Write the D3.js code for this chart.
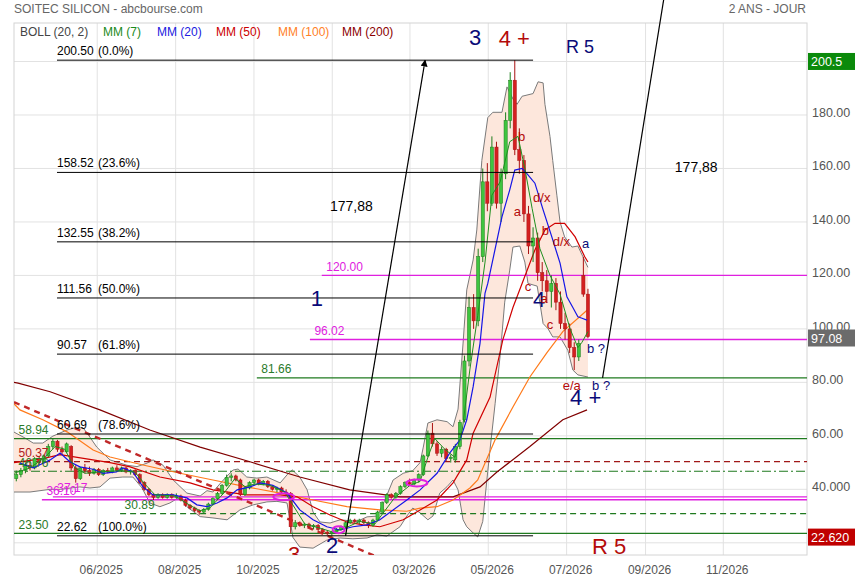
<!DOCTYPE html>
<html>
<head>
<meta charset="utf-8">
<script src="https://cdn.jsdelivr.net/npm/d3@7"></script>
<style>
  body { margin: 0; background: #fff; }
  text { font-family: "Liberation Sans", Arial, sans-serif; }
</style>
</head>
<body>
<div id="container"></div>
<script>
// VARIABLES

const width = 855,
      height = 580,
      plot = {left: 14, right: 807, top: 23, bottom: 555}

// DATA

// daily candles [open, high, low, close]
const candles = [
  [44,47,43,45.5],[45.5,48,44.5,47],[47,50,46,49],[49,51,47,48],[48,52,47.5,51.5],
  [51.5,52.5,49,50],[50,53,49.5,52.5],[52.5,57,52,56],[56,59,55,58],[58,58.5,54,55],
  [55,56,53,54],[54,57.5,53.5,57],[56,56.5,47,48],[48,49,42.5,44],[44,48.5,43.5,48],
  [48,49.5,46,47],[47,48.5,45,46],[46,48,45.5,47.5],[47.5,48,45,45.5],[45.5,47.5,45,47],
  [47,48,46,46.5],[46.5,48.5,46,48],[48,49,46.5,47],[47,48.5,46.5,48],[48,48.5,46,46.5],
  [46.5,47.5,45.5,47],[47,47.5,45,45.5],[45.5,46,42,42.5],[42.5,43,39.5,40],[40,40.5,37.5,38],
  [38,38.5,36,37],[37,38.5,36.5,38],[38,38.5,36.5,37],[37,38.5,36.5,38],[38,38.5,36.5,37],
  [37,38.5,36.5,37.5],[37.5,38,35.5,36],[36,36.5,33.5,34],[34,34.5,32.5,33],[33,33.5,31.5,32],
  [32,32.5,30.5,31.5],[31.5,33,31,32.5],[32.5,35,32,34.5],[34.5,37,34,36.5],[36.5,39,36,38.5],
  [38.5,42,38,41.5],[41.5,45.5,41,44.5],[44.5,46,43,45],[45,45.5,43,43.5],[43.5,44,37.5,38],
  [38,41,37.5,40.5],[40.5,43,40,42.5],[42.5,44,41.5,43.5],[43.5,44,41.5,42],[42,43.5,41.5,43],
  [43,43.5,40.5,41],[41,41.5,39.5,40],[40,41,39,40.5],[40.5,41,38.5,39],[39,40,37.5,38.5],
  [38.5,39,23.5,26],[26,28.5,25,27.5],[27.5,28,26,26.5],[26.5,27.5,25.5,27],[27,27.5,25.5,26],
  [26,27,25,26.5],[26.5,27,24.5,25],[25,25.5,23.5,24],[24,24.5,22.8,23.5],[23.5,24.5,22.62,24],
  [24,25.5,23.5,25],[25,26.5,24.5,26],[26,28,25.5,27.5],[27.5,29,27,28.5],[28.5,29,27.5,28],
  [28,29,27,28.5],[28.5,29,27,27.5],[27.5,28,25.5,26.5],[26.5,29,26,28.5],[28.5,32,28,31.5],
  [31.5,35.5,31,35],[35,38.5,34.5,38],[38,38.5,36.5,37],[37,39,36.5,38.5],[38.5,41.5,38,41],
  [41,43,40.5,42.5],[42.5,44,41.5,42],[42,44,41.5,43.5],[43.5,46,42.5,45.5],[45.5,53,45,52.5],
  [52.5,62,52,61],[61,64.8,56,57],[57,58,52.5,53.5],[53.5,56,52,55],[55,55.5,50.5,51.5],
  [51.5,53,50,52],
  [51,57,50,56],[56,66,55,65],[66,90,65,88],[88,112,86,108],[108,113,100,103],
  [103,130,101,127],[127,160,125,155],[155,162,144,147],[147,172,146,168],[168,170,145,147],
  [147,160,140,158],[158,181,156,178],[178,196,175,193],[193,200.5,165,167],[167,175,158,163],
  [163,165,140,143],[143,146,128,131],[131,138,125,134],[134,136,118,121],[121,125,114,118],
  [118,122,110,114],[114,120,108,117],[117,119,107,110],[110,114,100,102],[102,106,96,100],
  [100,102,91,93],[93,95,84.6,89.5],[89.5,96,88,94.6],[120,127,112,113],[113,115,96.5,97.08]
]

// indicator lines [day index, value]
const bollUpper = [
  [-0.5,61.4],[1.9,59.2],[3.7,57.3],[5.8,57.3],[8,59.9],[11.1,62.2],[12.8,63],[14.6,63],[15.5,61],
  [17.6,55.8],[20.5,51],[24.2,49],[26.4,48.5],[28.6,49.8],[29.9,51],[32.1,49],[34.3,43.5],
  [37.3,38.6],[40.2,37.5],[41.7,39.5],[43,39],[44.5,42],[46.1,45],[47.4,47.2],[48.5,47.6],
  [50.4,44.6],[52.6,44.2],[54.8,44.6],[57.7,42.4],[59.2,45.4],[60.3,47.3],[62,44.6],[63.6,39.8],
  [64.9,31.5],[66.4,27.8],[68.6,27.4],[70.8,28.6],[74.5,28],[76.7,29.7],[78.9,30],[80.6,36],
  [82.4,43.5],[84.6,46],[86.7,47],[88.3,50],[89,55.8],[90,64.8],[92,66],[94.2,65.3],[95.5,63.4],
  [96.6,70],[97.7,94.7],[98.5,114.6],[99.9,125.8],[100.7,137],[101.8,163],[103.1,179],
  [104.2,181],[106.2,181],[107.3,190.5],[108.6,186],[109.5,184],[110.6,187],[113,188],
  [114.1,192.4],[115.2,192],[115.6,184],[116.7,172],[117.3,163],[118.2,150],[118.9,140],
  [119.9,134.4],[121.5,130.6],[122.8,131],[123.9,127],[125,123]
]
const bollLower = [
  [-0.5,39],[3,39],[7.4,40],[9.6,40],[13.9,40.9],[16.1,40.5],[18.3,40.9],[20.5,44.2],[23.3,44.6],
  [25.5,44.6],[27.5,40.5],[29.2,34.9],[31.4,33.5],[33.6,34.9],[35.8,37.2],[37.3,33.5],[40.2,29.8],
  [43,29.3],[46.1,28.6],[48.9,32.3],[51.8,34.2],[54.8,35.3],[57,35.5],[59.2,34.9],[60.5,22],
  [62,18.4],[64.9,18],[67.9,21],[70.8,21.8],[73.6,21.5],[76.7,21.8],[78.9,23],[81,22.5],[83.9,26],
  [85.4,30],[86.7,33],[88.3,31.2],[90,28.6],[91.1,30],[92.6,38.6],[94.2,41],[95.5,43.5],[96.6,39.8],
  [97.7,28.6],[98.5,26],[99.9,23.7],[100.9,22.2],[102,28],[102.9,43.5],[103.6,55],[104.7,72],
  [105.8,90],[106.8,110],[107.9,122],[108.6,130.6],[110.1,131],[111.2,125],[111.9,117],[113.9,116],
  [114.5,109.6],[115.2,102],[116.3,100],[117.3,97],[118.9,97],[120.6,92],[121.7,84.6],[122.8,82.8],
  [125,82]
]
const mm7 = [
  [-0.5,46],[3,48],[6.3,52],[8.5,56],[10.6,55],[12.8,48],[15,46],[18.3,46.5],[22.7,47],[25.9,46.5],
  [28.1,42],[30.3,38],[34.7,37.5],[38,34],[40.2,32],[42.3,33],[45.6,39],[47.8,44],[50,41],[52.2,42],
  [55.5,41.5],[58.7,39],[60.9,33],[63.1,27],[66.4,25.5],[69.2,24],[71.9,25.5],[75.1,28],[78.4,27],
  [80.6,32],[82.8,37],[86.1,41.5],[88.3,43],[90,52],[91.5,59],[93.7,55],[95.9,52],[97.5,62],
  [99.2,85],[100.9,105],[102.5,125],[104,150],[105.8,155],[107.9,170],[109.7,172],[111.2,160],
  [112.8,145],[114.5,130],[116.7,120],[118.9,113],[121.1,100],[122.8,93],[123.7,95],[125,99]
]
const mm20 = [
  [0.8,49.8],[3.7,48],[7.4,51],[9.6,53.6],[11.7,50.3],[13.9,48.4],[16.8,47.5],[19,46],[21.9,46.5],
  [23.3,48],[25.5,46.5],[27.7,40.9],[29.9,37.9],[34.3,37.9],[37.3,36.8],[39.5,34.2],[41.7,33.5],
  [43.9,34.9],[46.1,36.8],[48.3,39.8],[51.1,40.9],[53.3,42.4],[56.1,41.5],[59.2,38.6],[62,32.3],
  [64.9,28.6],[67.9,26],[70.8,24.8],[73.6,26],[76.7,26.7],[79.5,28.6],[82.4,32.3],[85.4,36],
  [88.3,39.8],[92,46],[94.8,53.6],[97,58.5],[98.5,66],[99.9,78.4],[101.4,94.6],[102.5,113.4],
  [103.1,117],[106.2,141.9],[107.9,152],[109,159.4],[110.6,160],[111.7,158],[113.4,154.5],
  [115.2,144.5],[117.1,134.4],[118.9,124.6],[120.4,112],[121.7,108],[122.8,104.5],[123.7,104],[124.8,103.3]
]
const mm50 = [
  [-0.5,50],[5.8,51.5],[9.6,53],[20.5,50],[24.9,48.4],[31.4,44.6],[38,42.4],[43,39.8],[50.4,37.9],
  [57.7,37.9],[61.4,37.2],[64.9,33.5],[68.6,30.4],[72.3,27.8],[75.8,26.7],[79.5,26],[84.6,28.6],
  [88.3,32.3],[92,36],[95.5,42.4],[98.5,51],[99.9,61],[103.6,74.5],[106.4,96],[108.6,108],
  [110.6,117],[113.4,129.5],[115.6,137],[117.8,139.5],[119.9,139.5],[122.2,134.4],[124.3,127],
  [125,125]
]
const mm100 = [
  [-0.5,72],[0.8,69.7],[5.8,66],[11.1,61.5],[16.8,54.7],[20.5,52.1],[27.7,49.1],[35.8,46],
  [43,43.5],[50.4,40.9],[57.7,38.6],[64.9,36],[72.3,33.5],[79.5,32.3],[85.4,31.8],[88.3,33],
  [92,33.5],[95.5,36],[99.2,40.5],[100.9,43.5],[104.7,58.5],[108.6,70.8],[112.3,82],[116,91],
  [119.5,99],[124.8,107]
]
const mm200 = [
  [-0.5,80],[0.4,79.7],[7.4,76.5],[18.3,69.7],[29.2,62.2],[40.2,55.8],[51.1,50.3],[62,44.6],
  [72.9,39.8],[83.9,37.2],[88.3,37.2],[95.5,37.2],[101.4,40.9],[105.1,46.5],[112.3,56],
  [119.5,66],[124.8,69.7]
]

// retracement levels
const fibValues = [200.50, 158.52, 132.55, 111.56, 90.57, 60.69, 22.62]
const fibPct = ["(0.0%)", "(23.6%)", "(38.2%)", "(50.0%)", "(61.8%)", "(78.6%)", "(100.0%)"]
const fibStart = 8.9, fibEnd = 113

// support / resistance levels: value, start index, kind
const levelValues = [58.94, 50.37, 46.76, 37.17, 36.10, 30.89, 23.50, 81.66, 96.02, 120.00]
const levelStarts = [-0.5, -0.5, -0.5, 8.0, 5.6, 22.7, -0.5, 52.6, 64.2, 66.8]
const levelKinds  = ["green", "redDash", "greenDashDot", "pink", "pink", "greenDash", "green", "green", "pink", "pink"]
const levelLabels = ["58.94", "50.37", "46.76", "37.17", "36.10", "30.89", "23.50", "81.66", "96.02", "120.00"]

// trend line and measured moves [index, value]
const trendLine = [[-0.5, 72.6], [79.5, 14.3]]
const moveUp1 = [[72.0, 22.62], [89.4, 200.5]]
const moveUp2 = [[128.2, 81.66], [145.0, 259.54]]
const moveLabels = [[68.6, 144.1], [144.0, 158.7]]
const moveText = "177,88"

// circled areas [index, value]
const circles = [[58.5, 37.2], [70.5, 24.9], [87.6, 42.4]]

// wave labels: text, index, value, kind
const waveText  = ["3", "4 +", "R 5", "1", "2", "3", "R 5", "4 +", "4", "a", "b", "a", "d/x", "b", "d/x", "a", "c", "c", "b ?", "e/a", "b ?"]
const waveIdx   = [99.0, 105.5, 120.2, 64.4, 67.7, 59.4, 125.9, 121.1, 113.0, 114.6, 109.7, 108.8, 113.0, 114.9, 117.3, 123.7, 111.2, 116.0, 124.8, 119.5, 125.9]
const waveVal   = [206.2, 205.8, 203.2, 108.6, 16.2, 12.9, 15.8, 71.4, 108.2, 109.7, 170.3, 142.2, 147.5, 135.1, 131.0, 130.2, 114.2, 100.0, 91.0, 77.3, 77.3]
const waveKind  = ["bigBlue", "bigRed", "midBlue", "bigBlue", "bigBlue", "bigRed", "bigRed", "bigBlue", "bigBlue", "smRed", "smRed", "smRed", "smRed", "smRed", "smRed", "smBlue", "smRed", "smRed", "smBlue", "smRed", "smBlue"]

// axes
const monthTicks  = [17.7, 34.85, 51.97, 69.09, 86.08, 103.2, 120.34, 137.6, 154.6]
const monthLabels = ["06/2025", "08/2025", "10/2025", "12/2025", "03/2026", "05/2026", "07/2026", "09/2026", "11/2026"]
const priceTicks  = [40, 60, 80, 100, 120, 140, 160, 180]
const priceLabels = ["40.000", "60.00", "80.00", "100.00", "120.00", "140.00", "160.00", "180.00"]
const gridValues  = [20, 40, 60, 80, 100, 120, 140, 160, 180, 200]
const tagValues   = [200.5, 97.08, 22.62]
const tagLabels   = ["200.5", "97.08", "22.620"]

const legendNames = ["BOLL (20, 2)", "MM (7)", "MM (20)", "MM (50)", "MM (100)", "MM (200)"]

// SCALES

const xScale = d3.scaleLinear()
    .domain([-0.5, 172.9])
    .range([plot.left, plot.right])

const yScale = d3.scaleLinear()
    .domain([15.44, 214.4])
    .range([plot.bottom, plot.top])

// ELEMENTS

const svg = d3.select("#container")
    .append("svg")
    .attr("width", width)
    .attr("height", height)

svg.append("defs").append("clipPath")
    .attr("id", "plotClip")
  .append("rect")
    .attr("x", plot.left).attr("y", plot.top)
    .attr("width", plot.right - plot.left).attr("height", plot.bottom - plot.top)

const marker = svg.select("defs").append("marker")
    .attr("id", "arrow")
    .attr("viewBox", "0 0 10 10")
    .attr("refX", 9).attr("refY", 5)
    .attr("markerWidth", 7).attr("markerHeight", 7)
    .attr("markerUnits", "userSpaceOnUse")
    .attr("orient", "auto")
marker.append("path").attr("d", "M0,0 L10,5 L0,10 z").attr("fill", "#000")

// header
svg.append("text")
    .attr("x", 14).attr("y", 13)
    .attr("font-size", 12).attr("fill", "#666")
    .text("SOITEC SILICON - abcbourse.com")
svg.append("text")
    .attr("x", 806).attr("y", 13)
    .attr("text-anchor", "end")
    .attr("font-size", 12).attr("fill", "#666")
    .text("2 ANS - JOUR")

// grid
const grid = svg.append("g")
grid.selectAll(".hgrid")
    .data(gridValues)
    .join("line")
    .attr("x1", plot.left).attr("x2", plot.right)
    .attr("y1", d => yScale(d)).attr("y2", d => yScale(d))
    .attr("stroke", "#e2e2e2")
grid.selectAll(".vgrid")
    .data(monthTicks)
    .join("line")
    .attr("x1", d => xScale(d)).attr("x2", d => xScale(d))
    .attr("y1", plot.top).attr("y2", plot.bottom)
    .attr("stroke", "#e2e2e2")
grid.append("rect")
    .attr("x", plot.left).attr("y", plot.top)
    .attr("width", plot.right - plot.left).attr("height", plot.bottom - plot.top)
    .attr("fill", "none").attr("stroke", "#d4d4d4")

const chart = svg.append("g").attr("clip-path", "url(#plotClip)")

const line = d3.line().x(d => xScale(d[0])).y(d => yScale(d[1]))

// bollinger band
chart.append("path")
    .attr("d", line(bollUpper.concat(bollLower.slice().reverse())) + "Z")
    .attr("fill", "#fde7dc")
chart.append("path").attr("d", line(bollUpper)).attr("fill", "none").attr("stroke", "#7a7a7a").attr("stroke-width", 1)
chart.append("path").attr("d", line(bollLower)).attr("fill", "none").attr("stroke", "#7a7a7a").attr("stroke-width", 1)

// levels
const levelStyle = {
  green:        {stroke: "#1f7a1f", dash: null, width: 1.2, text: "#2a7a2a"},
  greenDash:    {stroke: "#1f7a1f", dash: "6,4", width: 1.2, text: "#2a7a2a"},
  greenDashDot: {stroke: "#1f7a1f", dash: "9,3,2,3", width: 1.2, text: "#2a7a2a"},
  redDash:      {stroke: "#a01818", dash: "6,4", width: 1.2, text: "#b02020"},
  pink:         {stroke: "#e020e0", dash: null, width: 1.4, text: "#e020e0"}
}
levelValues.forEach((v, k) => {
  const s = levelStyle[levelKinds[k]]
  chart.append("line")
      .attr("x1", xScale(levelStarts[k])).attr("x2", plot.right)
      .attr("y1", yScale(v)).attr("y2", yScale(v))
      .attr("stroke", s.stroke).attr("stroke-width", s.width)
      .attr("stroke-dasharray", s.dash)
})

// moving averages (long ones behind candles)
chart.append("path").attr("d", line(mm200)).attr("fill", "none").attr("stroke", "#800000").attr("stroke-width", 1.2)
chart.append("path").attr("d", line(mm100)).attr("fill", "none").attr("stroke", "#ff7a1a").attr("stroke-width", 1.2)
chart.append("path").attr("d", line(mm50)).attr("fill", "none").attr("stroke", "#d00000").attr("stroke-width", 1.2)

// trend line
chart.append("path")
    .attr("d", line(trendLine))
    .attr("stroke", "#c02828").attr("stroke-width", 2.4)
    .attr("stroke-dasharray", "6,5").attr("fill", "none")

// SELECT-JOIN-DRAW candles

const candleG = chart.selectAll(".candle")
    .data(candles)
    .join("g")
    .attr("class", "candle")

candleG.append("line")
    .attr("x1", (d, i) => xScale(i)).attr("x2", (d, i) => xScale(i))
    .attr("y1", d => yScale(d[1])).attr("y2", d => yScale(d[2]))
    .attr("stroke", d => d[3] >= d[0] ? "#1d7d1d" : "#a81212")
    .attr("stroke-width", 1)

candleG.append("rect")
    .attr("x", (d, i) => xScale(i) - 1.6)
    .attr("width", 3.2)
    .attr("y", d => yScale(Math.max(d[0], d[3])))
    .attr("height", d => Math.max(1, Math.abs(yScale(d[0]) - yScale(d[3]))))
    .attr("fill", d => d[3] >= d[0] ? "#3fc43f" : "#d42020")
    .attr("stroke", d => d[3] >= d[0] ? "#1d7d1d" : "#a81212")
    .attr("stroke-width", 0.5)

// short averages on top
chart.append("path").attr("d", line(mm20)).attr("fill", "none").attr("stroke", "#1515e6").attr("stroke-width", 1.2)
chart.append("path").attr("d", line(mm7)).attr("fill", "none").attr("stroke", "#1f8f1f").attr("stroke-width", 1)

// circled areas
chart.selectAll(".circ")
    .data(circles)
    .join("ellipse")
    .attr("cx", d => xScale(d[0])).attr("cy", d => yScale(d[1]))
    .attr("rx", (d, i) => i === 1 ? 6 : 10.5).attr("ry", 3.5)
    .attr("fill", "none").attr("stroke", "#e020e0").attr("stroke-width", 2)

// fibonacci lines
chart.selectAll(".fib")
    .data(fibValues)
    .join("line")
    .attr("x1", xScale(fibStart)).attr("x2", xScale(fibEnd))
    .attr("y1", d => yScale(d)).attr("y2", d => yScale(d))
    .attr("stroke", "#000").attr("stroke-width", 1)

fibValues.forEach((v, k) => {
  chart.append("text")
      .attr("x", xScale(fibStart)).attr("y", yScale(v) - 5)
      .attr("font-size", 12).attr("fill", "#000")
      .text(v.toFixed(2))
  chart.append("text")
      .attr("x", xScale(fibStart) + 41).attr("y", yScale(v) - 5)
      .attr("font-size", 12).attr("fill", "#000")
      .text(fibPct[k])
})

// level labels
levelValues.forEach((v, k) => {
  const s = levelStyle[levelKinds[k]]
  chart.append("text")
      .attr("x", xScale(levelStarts[k]) + 4.5).attr("y", yScale(v) - 4.5)
      .attr("font-size", 12).attr("fill", s.text)
      .text(levelLabels[k])
})

// measured moves
chart.append("path")
    .attr("d", line(moveUp1))
    .attr("stroke", "#000").attr("stroke-width", 1.2).attr("fill", "none")
    .attr("marker-end", "url(#arrow)")
svg.append("path")
    .attr("d", line(moveUp2))
    .attr("stroke", "#000").attr("stroke-width", 1.2).attr("fill", "none")
moveLabels.forEach(p => {
  svg.append("text")
      .attr("x", xScale(p[0])).attr("y", yScale(p[1]))
      .attr("font-size", 14).attr("fill", "#000")
      .text(moveText)
})

// wave labels
const waveStyle = {
  bigBlue: {size: 22, color: "#0a0a78"},
  bigRed:  {size: 22, color: "#b40a0a"},
  midBlue: {size: 18, color: "#0a0a78"},
  smRed:   {size: 13, color: "#b40a0a"},
  smBlue:  {size: 13, color: "#0a0a78"}
}
waveText.forEach((t, k) => {
  const s = waveStyle[waveKind[k]]
  chart.append("text")
      .attr("x", xScale(waveIdx[k])).attr("y", yScale(waveVal[k]))
      .attr("font-size", s.size).attr("fill", s.color)
      .text(t)
})

// legend
const legendColors = ["#444", "#1a8a1a", "#2020e0", "#cc0000", "#ff7f27", "#8b0000"]
const legendX = [20, 103, 157, 216, 278, 342]
legendNames.forEach((n, k) => {
  svg.append("text")
      .attr("x", legendX[k]).attr("y", 36)
      .attr("font-size", 12).attr("fill", legendColors[k])
      .text(n)
})

// AXES

const xAxis = d3.axisBottom(xScale)
    .tickValues(monthTicks)
    .tickFormat((d, i) => monthLabels[i])
    .tickSize(0)
    .tickPadding(10)

svg.append("g")
    .attr("transform", `translate(0,${plot.bottom})`)
    .call(xAxis)
    .call(g => g.select(".domain").remove())
    .call(g => g.selectAll("text")
        .attr("x", 3.5)
        .attr("font-size", 12)
        .attr("font-family", "Liberation Sans, Arial, sans-serif")
        .attr("fill", "#555"))

const yAxis = d3.axisRight(yScale)
    .tickValues(priceTicks)
    .tickFormat((d, i) => priceLabels[i])
    .tickSize(0)
    .tickPadding(5)

svg.append("g")
    .attr("transform", `translate(${plot.right},0)`)
    .call(yAxis)
    .call(g => g.select(".domain").remove())
    .call(g => g.selectAll("text")
        .attr("y", -2.5)
        .attr("font-size", 12.5)
        .attr("font-family", "Liberation Sans, Arial, sans-serif")
        .attr("fill", "#555"))

// price tags
const tagColors = ["#0b8a0b", "#6b6b6b", "#c00000"]
tagValues.forEach((v, k) => {
  svg.append("rect")
      .attr("x", 808).attr("y", yScale(v) + 1.3 - 8.5)
      .attr("width", 47).attr("height", 17)
      .attr("fill", tagColors[k])
  svg.append("text")
      .attr("x", 811).attr("y", yScale(v) + 1.3 + 4.5)
      .attr("font-size", 12.5).attr("fill", "#fff")
      .text(tagLabels[k])
})
</script>
</body>
</html>
